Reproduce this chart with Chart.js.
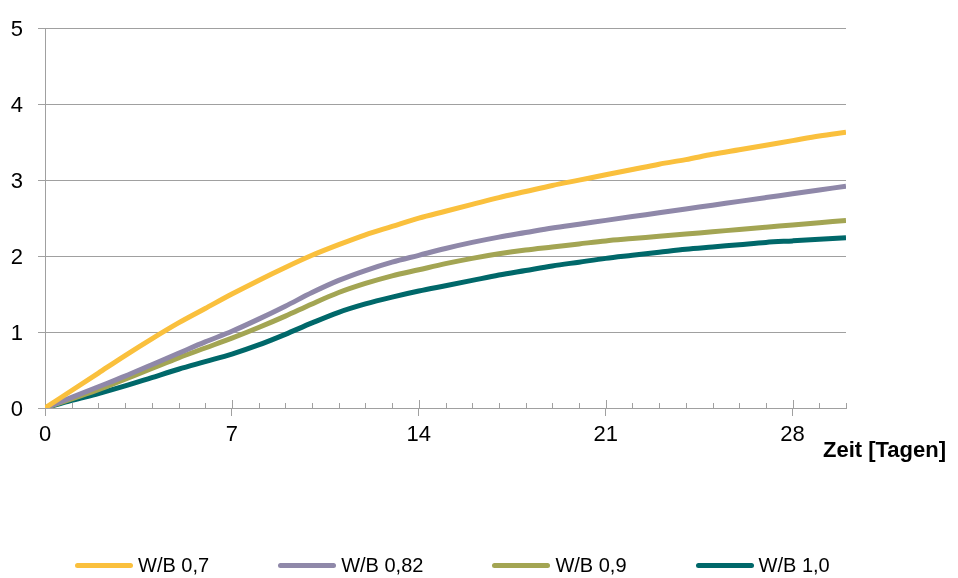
<!DOCTYPE html>
<html>
<head>
<meta charset="utf-8">
<script src="https://cdn.jsdelivr.net/npm/chart.js@4/dist/chart.umd.min.js"></script>
<style>
  html, body { margin: 0; padding: 0; background: #fff; }
  #wrap { position: relative; width: 958px; height: 578px; }
  #legend {
    position: absolute; left: 75px; top: 554px;
    display: flex; gap: 69px; align-items: center;
    font-family: "Liberation Sans", Arial, sans-serif; font-size: 20px; color: #000;
  }
  .item { display: flex; align-items: center; }
  .swatch { width: 58px; height: 5px; border-radius: 3px; margin-right: 5px; }
</style>
</head>
<body>
<div id="wrap">
  <canvas id="chart" width="958" height="578"></canvas>
  <div id="legend"></div>
</div>
<script>
const days = [0, 1, 2, 3, 4, 5, 6, 7, 8, 9, 10, 11, 12, 13, 14, 15, 16, 17, 18, 19, 20, 21, 22, 23, 24, 25, 26, 27, 28, 29, 30];
const xTickLabels = [0, 7, 14, 21, 28];
const yTicks = [0, 1, 2, 3, 4, 5];

const seriesNames = ['W/B 0,7', 'W/B 0,82', 'W/B 0,9', 'W/B 1,0'];
const seriesColors = ['#FAC03D', '#8F88A9', '#A3A553', '#00686A'];

const wb07 = [0, 0.23, 0.46, 0.69, 0.91, 1.12, 1.31, 1.50, 1.68, 1.85, 2.01, 2.15, 2.28, 2.39, 2.50, 2.59, 2.68, 2.77, 2.85, 2.93, 3.00, 3.07, 3.14, 3.21, 3.27, 3.34, 3.40, 3.46, 3.52, 3.58, 3.63];
const wb082 = [0, 0.14, 0.28, 0.42, 0.57, 0.72, 0.87, 1.01, 1.17, 1.34, 1.52, 1.68, 1.81, 1.92, 2.01, 2.10, 2.18, 2.25, 2.31, 2.37, 2.42, 2.47, 2.52, 2.57, 2.62, 2.67, 2.72, 2.77, 2.82, 2.87, 2.92];
const wb09 = [0, 0.12, 0.24, 0.38, 0.52, 0.66, 0.79, 0.92, 1.06, 1.21, 1.37, 1.52, 1.64, 1.74, 1.82, 1.90, 1.97, 2.03, 2.08, 2.12, 2.16, 2.20, 2.23, 2.26, 2.29, 2.32, 2.35, 2.38, 2.41, 2.44, 2.47];
const wb10 = [0, 0.10, 0.19, 0.29, 0.40, 0.51, 0.61, 0.71, 0.83, 0.97, 1.12, 1.26, 1.37, 1.46, 1.54, 1.61, 1.68, 1.75, 1.81, 1.87, 1.92, 1.97, 2.01, 2.05, 2.09, 2.12, 2.15, 2.18, 2.20, 2.22, 2.24];

const seriesValues = [wb07, wb082, wb09, wb10];
const axisTitle = 'Zeit [Tagen]';
const gridColor = '#A0A0A0';

Chart.defaults.font.family = '"Liberation Sans", Arial, sans-serif';
Chart.defaults.color = '#000';

// small ticks above the x axis (minor every day, major every 7) + axis title
const axisTicks = {
  id: 'axisTicks',
  afterDraw(chart) {
    const { ctx, scales: { x }, chartArea } = chart;
    ctx.save();
    ctx.strokeStyle = gridColor;
    ctx.lineWidth = 1;
    days.forEach(d => {
      if (d === 0) return;
      const px = Math.round(x.getPixelForValue(d)) + 0.5;
      const len = xTickLabels.includes(d) ? 8 : 5;
      ctx.beginPath();
      ctx.moveTo(px, chartArea.bottom);
      ctx.lineTo(px, chartArea.bottom - len);
      ctx.stroke();
    });
    ctx.font = 'bold 22px "Liberation Sans", Arial, sans-serif';
    ctx.fillStyle = '#000';
    ctx.textBaseline = 'alphabetic';
    ctx.fillText(axisTitle, x.right - 23, 457);
    ctx.restore();
  }
};

const chart = new Chart(document.getElementById('chart').getContext('2d'), {
  type: 'line',
  data: {
    datasets: seriesNames.map((name, i) => ({
      label: name,
      data: days.map((d, j) => ({ x: d, y: seriesValues[i][j] })),
      borderColor: seriesColors[i],
      backgroundColor: seriesColors[i],
      borderWidth: 5,
      pointRadius: 0,
      cubicInterpolationMode: 'monotone',
      fill: false
    }))
  },
  options: {
    responsive: false,
    animation: false,
    layout: { padding: { top: 22, right: 112, bottom: 110, left: 0 } },
    plugins: {
      legend: { display: false },
      tooltip: { enabled: false }
    },
    scales: {
      x: {
        type: 'linear',
        min: 0,
        max: 30,
        afterFit(scale) { scale.height = 60; },
        ticks: {
          stepSize: 1,
          autoSkip: false,
          maxRotation: 0,
          padding: 6,
          font: { size: 22 },
          callback: v => xTickLabels.includes(v) ? String(v) : ''
        },
        grid: {
          drawOnChartArea: false,
          tickLength: 8,
          tickColor: ctx => (ctx.tick && xTickLabels.includes(ctx.tick.value)) ? gridColor : 'rgba(0,0,0,0)'
        },
        border: { color: gridColor, width: 1 }
      },
      y: {
        min: 0,
        max: 5,
        afterFit(scale) { scale.width = 45; },
        afterBuildTicks(scale) { scale.ticks = yTicks.map(v => ({ value: v })); },
        ticks: {
          padding: 15,
          labelOffset: 2,
          font: { size: 22 }
        },
        grid: {
          color: gridColor,
          lineWidth: 1,
          tickLength: 7
        },
        border: { color: gridColor, width: 1 }
      }
    }
  },
  plugins: [axisTicks]
});

// HTML legend
const legendEl = document.getElementById('legend');
chart.data.datasets.forEach(ds => {
  const item = document.createElement('div');
  item.className = 'item';
  const sw = document.createElement('span');
  sw.className = 'swatch';
  sw.style.background = ds.borderColor;
  const txt = document.createElement('span');
  txt.textContent = ds.label;
  item.appendChild(sw);
  item.appendChild(txt);
  legendEl.appendChild(item);
});
</script>
</body>
</html>
